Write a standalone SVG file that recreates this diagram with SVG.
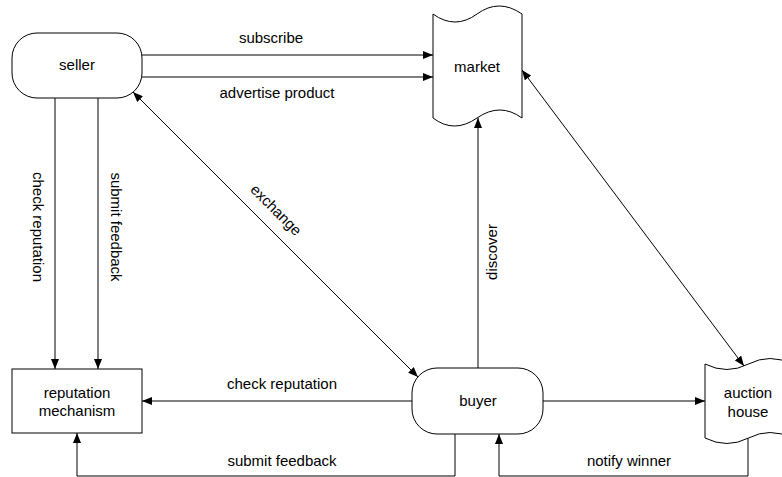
<svg xmlns="http://www.w3.org/2000/svg" width="782" height="477" viewBox="0 0 782 477">
<style>
.node{fill:#fff;stroke:#000;stroke-width:1}
.t{font-family:"Liberation Sans",Arial,sans-serif;font-size:15px;fill:#000;text-anchor:middle}
.c{fill:none;stroke:#000;stroke-width:1}
</style>
<defs>
<marker id="ah" viewBox="0 0 10 8" refX="10" refY="4" markerWidth="10" markerHeight="8" orient="auto-start-reverse" markerUnits="userSpaceOnUse">
<path d="M0,0 L10,4 L0,8 z" fill="#000"/>
</marker>
</defs>
<rect width="782" height="477" fill="#fff"/>
<g id="connectors">
<path class="c" d="M142,55 H433" marker-end="url(#ah)"/>
<path class="c" d="M142,77 H433" marker-end="url(#ah)"/>
<path class="c" d="M55,98 V369" marker-end="url(#ah)"/>
<path class="c" d="M98,98 V369" marker-end="url(#ah)"/>
<path class="c" d="M133,92 L418,377" marker-start="url(#ah)" marker-end="url(#ah)"/>
<path class="c" d="M478,368 V118" marker-end="url(#ah)"/>
<path class="c" d="M522,70 L744,366" marker-start="url(#ah)" marker-end="url(#ah)"/>
<path class="c" d="M412,401 H142" marker-end="url(#ah)"/>
<path class="c" d="M543,401 H705" marker-end="url(#ah)"/>
<path class="c" d="M455,434 V476 H77 V433" marker-end="url(#ah)"/>
<path class="c" d="M748,438 V476 H499 V434" marker-end="url(#ah)"/>
<text class="t" x="271" y="43">subscribe</text>
<text class="t" x="277" y="98">advertise product</text>
<text class="t" transform="translate(38,227) rotate(90)" y="5">check reputation</text>
<text class="t" transform="translate(116,227) rotate(90)" y="5">submit feedback</text>
<text class="t" transform="translate(276,210) rotate(45)" y="5">exchange</text>
<text class="t" transform="translate(492,252) rotate(-90)" y="5">discover</text>
<text class="t" x="282" y="389">check reputation</text>
<text class="t" x="282" y="466">submit feedback</text>
<text class="t" x="629" y="466">notify winner</text>
</g>
<g id="seller">
<rect class="node" x="12" y="33" width="130" height="65" rx="25" ry="25"/>
<text class="t" x="77" y="70">seller</text>
</g>
<g id="market">
<path class="node" d="M433,14 Q455,30 477,14 T522,14 L522,118 Q500,102 477,118 T433,118 Z"/>
<text class="t" x="477" y="72">market</text>
</g>
<g id="reputation">
<rect class="node" x="12" y="369" width="130" height="64"/>
<text class="t" x="77" y="398">reputation</text>
<text class="t" x="77" y="416">mechanism</text>
</g>
<g id="buyer">
<rect class="node" x="412" y="368" width="131" height="66" rx="25" ry="25"/>
<text class="t" x="478" y="406">buyer</text>
</g>
<g id="auction">
<path class="node" d="M705,364 Q727,375 748.5,364 T792,364 L792,438 Q770,427 748.5,438 T705,438 Z"/>
<text class="t" x="748" y="398">auction</text>
<text class="t" x="748" y="417">house</text>
</g>
</svg>
